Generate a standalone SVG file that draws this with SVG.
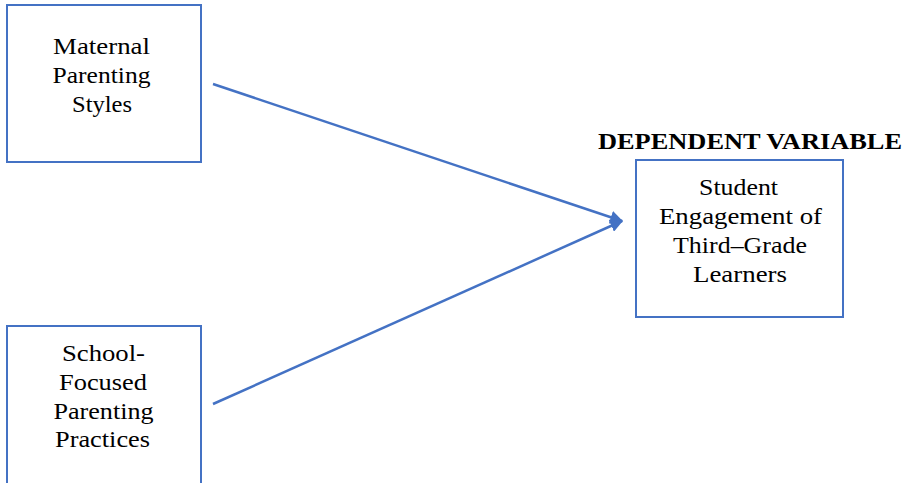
<svg xmlns="http://www.w3.org/2000/svg" width="906" height="483" viewBox="0 0 906 483">
<style>
.box{fill:#fff;stroke:#4472C4;stroke-width:2}
.t{font-family:"Liberation Serif","Times New Roman",serif;font-size:23px;fill:#000;text-anchor:middle}
.h{font-family:"Liberation Serif","Times New Roman",serif;font-size:24px;font-weight:bold;fill:#000;text-anchor:middle}
.c{stroke:#4472C4;stroke-width:2.5;fill:none}
</style>
<defs>
<marker id="ah" viewBox="0 0 10 10" refX="9" refY="5" markerWidth="5.2" markerHeight="5.2" orient="auto" markerUnits="strokeWidth">
<path d="M0,0 L10,5 L0,10 z" fill="#4472C4"/>
</marker>
</defs>
<rect width="906" height="483" fill="#fff"/>
<g id="connectors">
<line class="c" x1="213" y1="84" x2="622" y2="221" marker-end="url(#ah)"/>
<line class="c" x1="213" y1="404" x2="622" y2="221" marker-end="url(#ah)"/>
</g>
<g id="maternal">
<rect class="box" x="7" y="5" width="194" height="157"/>
<text class="t" x="101.5" y="54" textLength="97" lengthAdjust="spacingAndGlyphs">Maternal</text>
<text class="t" x="101.5" y="83" textLength="98" lengthAdjust="spacingAndGlyphs">Parenting</text>
<text class="t" x="102" y="112" textLength="60" lengthAdjust="spacingAndGlyphs">Styles</text>
</g>
<g id="school">
<rect class="box" x="7" y="326" width="194" height="170"/>
<text class="t" x="103.5" y="361" textLength="83" lengthAdjust="spacingAndGlyphs">School-</text>
<text class="t" x="103" y="390" textLength="88" lengthAdjust="spacingAndGlyphs">Focused</text>
<text class="t" x="103.5" y="419" textLength="100" lengthAdjust="spacingAndGlyphs">Parenting</text>
<text class="t" x="102.5" y="447" textLength="95" lengthAdjust="spacingAndGlyphs">Practices</text>
</g>
<g id="dependent-label">
<text class="h" x="750" y="149" textLength="304" lengthAdjust="spacingAndGlyphs">DEPENDENT VARIABLE</text>
</g>
<g id="student">
<rect class="box" x="636" y="160" width="207" height="157"/>
<text class="t" x="738.5" y="195" textLength="79" lengthAdjust="spacingAndGlyphs">Student</text>
<text class="t" x="740.5" y="224" textLength="163" lengthAdjust="spacingAndGlyphs">Engagement of</text>
<text class="t" x="740" y="253" textLength="134" lengthAdjust="spacingAndGlyphs">Third–Grade</text>
<text class="t" x="740" y="282" textLength="94" lengthAdjust="spacingAndGlyphs">Learners</text>
</g>
</svg>
